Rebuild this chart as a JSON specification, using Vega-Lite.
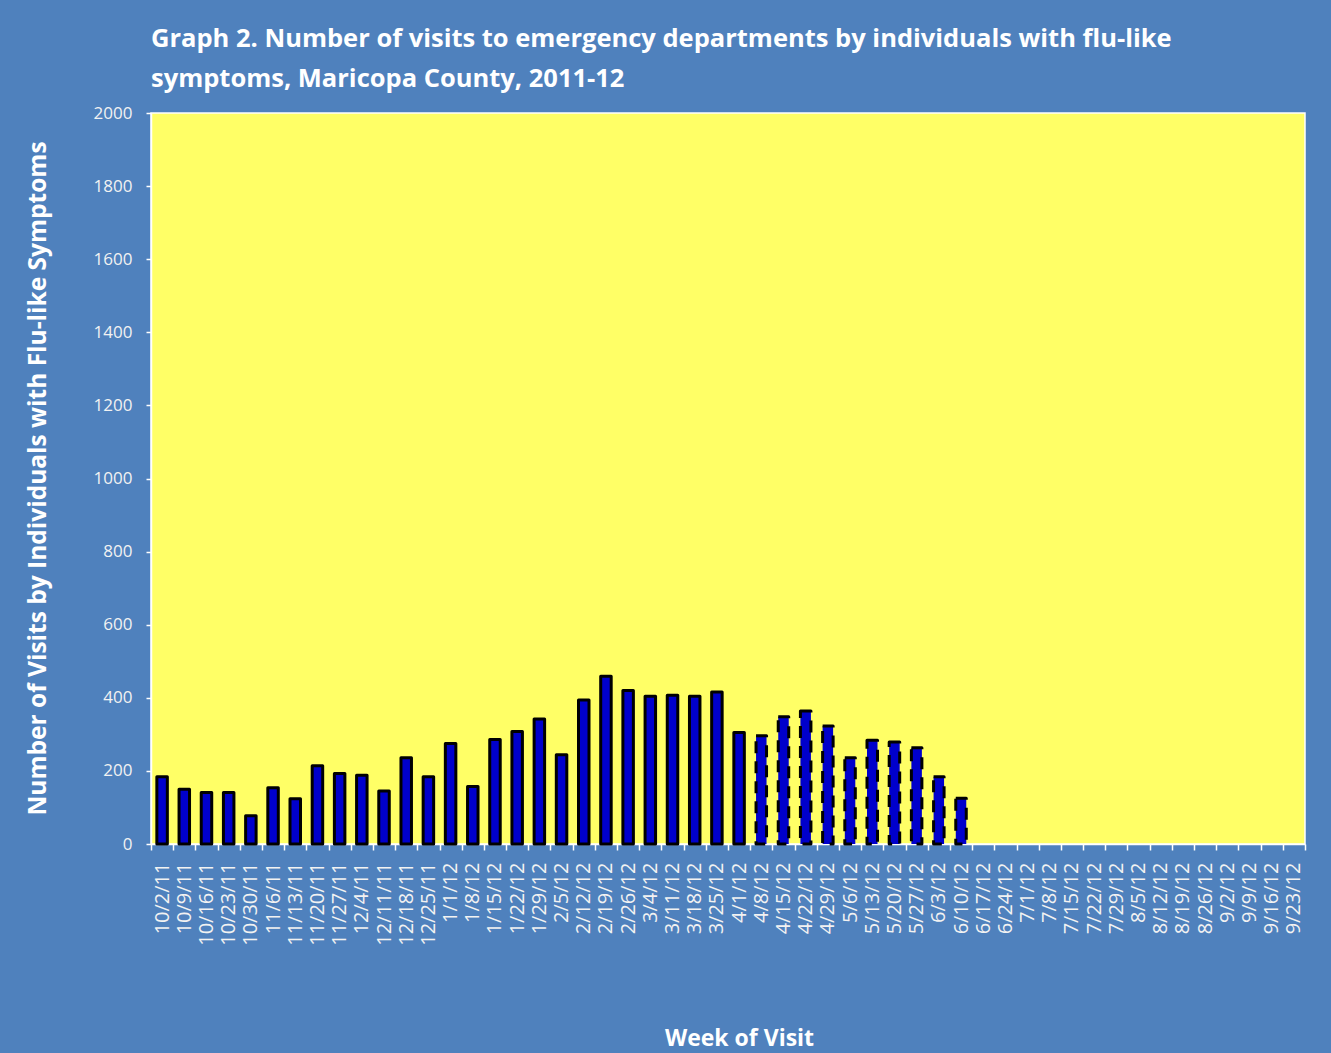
{
  "$schema": "https://vega.github.io/schema/vega-lite/v6.json",
  "autosize": "none",
  "width": 1154,
  "height": 731,
  "padding": {"left": 151, "top": 113, "right": 26, "bottom": 209},
  "background": "#4F81BD",
  "title": {
    "text": ["Graph 2. Number of visits to emergency departments by individuals  with flu-like", "symptoms, Maricopa  County, 2011-12"],
    "anchor": "start",
    "frame": "group",
    "font": "Open Sans",
    "fontSize": 25.5,
    "fontWeight": "bold",
    "color": "#FFFFFF",
    "lineHeight": 40,
    "offset": 12
  },
  "config": {
    "view": {"fill": "#FFFF66", "stroke": "#FFFFFF", "strokeWidth": 1.5},
    "axis": {
      "domainColor": "#FFFFFF",
      "tickColor": "#FFFFFF",
      "labelColor": "#F2F2F2",
      "labelFont": "Open Sans",
      "titleFont": "Open Sans",
      "titleColor": "#FFFFFF",
      "titleFontWeight": "bold",
      "grid": false,
      "domainWidth": 1.5,
      "tickWidth": 1.5
    }
  },
  "data": {
    "values": [
      {"week": "10/2/11", "visits": 184, "status": "final"},
      {"week": "10/9/11", "visits": 150, "status": "final"},
      {"week": "10/16/11", "visits": 141, "status": "final"},
      {"week": "10/23/11", "visits": 141, "status": "final"},
      {"week": "10/30/11", "visits": 77, "status": "final"},
      {"week": "11/6/11", "visits": 154, "status": "final"},
      {"week": "11/13/11", "visits": 124, "status": "final"},
      {"week": "11/20/11", "visits": 214, "status": "final"},
      {"week": "11/27/11", "visits": 193, "status": "final"},
      {"week": "12/4/11", "visits": 188, "status": "final"},
      {"week": "12/11/11", "visits": 145, "status": "final"},
      {"week": "12/18/11", "visits": 236, "status": "final"},
      {"week": "12/25/11", "visits": 184, "status": "final"},
      {"week": "1/1/12", "visits": 275, "status": "final"},
      {"week": "1/8/12", "visits": 157, "status": "final"},
      {"week": "1/15/12", "visits": 286, "status": "final"},
      {"week": "1/22/12", "visits": 308, "status": "final"},
      {"week": "1/29/12", "visits": 342, "status": "final"},
      {"week": "2/5/12", "visits": 244, "status": "final"},
      {"week": "2/12/12", "visits": 394, "status": "final"},
      {"week": "2/19/12", "visits": 459, "status": "final"},
      {"week": "2/26/12", "visits": 420, "status": "final"},
      {"week": "3/4/12", "visits": 404, "status": "final"},
      {"week": "3/11/12", "visits": 407, "status": "final"},
      {"week": "3/18/12", "visits": 404, "status": "final"},
      {"week": "3/25/12", "visits": 416, "status": "final"},
      {"week": "4/1/12", "visits": 305, "status": "final"},
      {"week": "4/8/12", "visits": 296, "status": "provisional"},
      {"week": "4/15/12", "visits": 348, "status": "provisional"},
      {"week": "4/22/12", "visits": 364, "status": "provisional"},
      {"week": "4/29/12", "visits": 323, "status": "provisional"},
      {"week": "5/6/12", "visits": 236, "status": "provisional"},
      {"week": "5/13/12", "visits": 284, "status": "provisional"},
      {"week": "5/20/12", "visits": 279, "status": "provisional"},
      {"week": "5/27/12", "visits": 263, "status": "provisional"},
      {"week": "6/3/12", "visits": 184, "status": "provisional"},
      {"week": "6/10/12", "visits": 125, "status": "provisional"}
    ]
  },
  "mark": {"type": "bar", "fill": "#0000CC", "stroke": "#000000", "strokeWidth": 3, "size": 10.5, "strokeJoin": "round"},
  "encoding": {
    "x": {
      "field": "week",
      "type": "nominal",
      "sort": null,
      "scale": {
        "domain": ["10/2/11","10/9/11","10/16/11","10/23/11","10/30/11","11/6/11","11/13/11","11/20/11","11/27/11","12/4/11","12/11/11","12/18/11","12/25/11","1/1/12","1/8/12","1/15/12","1/22/12","1/29/12","2/5/12","2/12/12","2/19/12","2/26/12","3/4/12","3/11/12","3/18/12","3/25/12","4/1/12","4/8/12","4/15/12","4/22/12","4/29/12","5/6/12","5/13/12","5/20/12","5/27/12","6/3/12","6/10/12","6/17/12","6/24/12","7/1/12","7/8/12","7/15/12","7/22/12","7/29/12","8/5/12","8/12/12","8/19/12","8/26/12","9/2/12","9/9/12","9/16/12","9/23/12"],
        "paddingInner": 0,
        "paddingOuter": 0
      },
      "axis": {
        "title": "Week of Visit",
        "titleFontSize": 23,
        "titleX": 588,
        "titleY": 201,
        "titleBaseline": "alphabetic",
        "titleAlign": "center",
        "labelAngle": -90,
        "labelFontSize": 20,
        "labelPadding": 12,
        "tickSize": 6,
        "tickBand": "extent",
        "labelOverlap": false
      }
    },
    "y": {
      "field": "visits",
      "type": "quantitative",
      "scale": {"domain": [0, 2000], "nice": false},
      "axis": {
        "values": [0, 200, 400, 600, 800, 1000, 1200, 1400, 1600, 1800, 2000],
        "title": "Number of Visits by Individuals with Flu-like Symptoms",
        "titleFontSize": 24.5,
        "titleX": -113,
        "titleY": 365,
        "titleBaseline": "middle",
        "titleAlign": "center",
        "labelFontSize": 17,
        "labelPadding": 14,
        "tickSize": 5,
        "format": "d"
      }
    },
    "strokeDash": {
      "field": "status",
      "type": "nominal",
      "scale": {"domain": ["final", "provisional"], "range": [[1, 0], [12, 8]]},
      "legend": null
    }
  }
}
